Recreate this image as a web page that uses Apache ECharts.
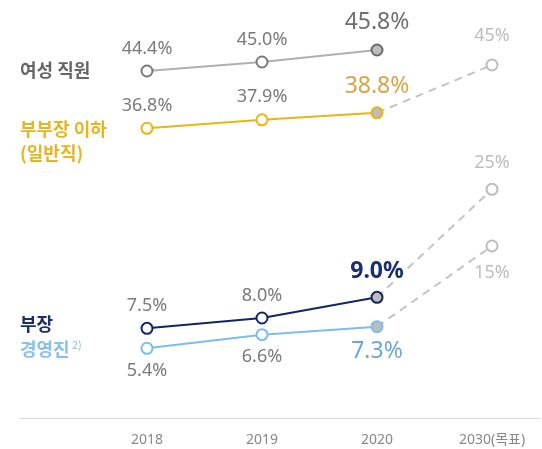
<!DOCTYPE html>
<html><head><meta charset="utf-8">
<script src="https://cdn.jsdelivr.net/npm/echarts@6/dist/echarts.min.js"></script>
<style>html,body{margin:0;padding:0;background:#fff}#c{width:542px;height:449px}</style>
</head><body><div id="c"></div>
<script>
// ---- data ----
const categories = ['2018', '2019', '2020', '2030(목표)'];
const seriesNames = ['여성 직원', '부부장 이하\n(일반직)', '부장', '경영진'];
const womenStaff = [44.4, 45.0, 45.8];
const belowDeputy = [36.8, 37.9, 38.8];
const belowDeputyTarget = 45;
const deptHead = [7.5, 8.0, 9.0];
const deptHeadTarget = 25;
const executives = [5.4, 6.6, 7.3];
const executivesTarget = 15;

const NUM_FONT = "'Noto Sans', 'Noto Sans CJK KR', sans-serif";
const KR_FONT = "'Noto Sans CJK KR', 'Noto Sans', sans-serif";

function solidSeries(name, values, yIdx, cfg) {
  const last = values.length - 1;
  return {
    name: name, type: 'line', xAxisIndex: 0, yAxisIndex: yIdx, z: 5,
    symbol: 'circle', symbolSize: 11,
    lineStyle: { color: cfg.line, width: 2 },
    itemStyle: { color: '#fff', borderColor: cfg.border, borderWidth: 2 },
    data: values.map((v, i) => ({
      value: v,
      itemStyle: i === last ? { color: '#bdbdbd', borderColor: cfg.lastBorder, borderWidth: 2 } : undefined,
      label: i === last ? {
        show: true, position: cfg.pos, distance: cfg.lastDist,
        color: cfg.lastColor, fontSize: 23, fontWeight: cfg.lastWeight || 'normal', fontFamily: NUM_FONT,
        formatter: p => p.value.toFixed(1) + '%'
      } : {
        show: true, position: cfg.pos, distance: cfg.dist,
        color: '#7a7a7a', fontSize: 18, fontFamily: NUM_FONT,
        formatter: p => p.value.toFixed(1) + '%'
      }
    }))
  };
}

function targetSeries(name, from, target, yIdx, pos, dist) {
  return {
    name: name + ' 목표', type: 'line', xAxisIndex: 0, yAxisIndex: yIdx, z: 3,
    symbol: 'circle', symbolSize: 11,
    lineStyle: { color: '#c4c4c4', width: 2, type: [8, 6] },
    itemStyle: { color: '#fff', borderColor: '#bdbdbd', borderWidth: 2 },
    data: [null, null,
      { value: from, symbol: 'none', label: { show: false } },
      { value: target, label: { show: true, position: pos, distance: dist, color: '#bdbdbd', fontSize: 18, fontFamily: NUM_FONT, formatter: p => p.value + '%' } }
    ]
  };
}

const hiddenY = (min, max) => ({ type: 'value', gridIndex: 0, min: min, max: max, show: false, splitLine: { show: false } });

const option = {
  animation: false,
  backgroundColor: '#fff',
  grid: [
    { left: 147, right: 50, top: 0, bottom: 31 },
    { left: 20, right: 2, top: 0, bottom: 31 }
  ],
  xAxis: [
    {
      type: 'category', gridIndex: 0, data: categories, boundaryGap: false,
      axisLine: { show: false }, axisTick: { show: false }, splitLine: { show: false },
      axisLabel: { color: '#888', fontSize: 14, margin: 15, fontFamily: NUM_FONT }
    },
    {
      type: 'category', gridIndex: 1, data: [''],
      axisLine: { show: true, lineStyle: { color: '#d9d9d9', width: 1 } },
      axisTick: { show: false }, axisLabel: { show: false }
    }
  ],
  yAxis: [
    hiddenY(21.267, 49.133),  // 0 women
    hiddenY(-0.728, 53.42),   // 1 below deputy
    hiddenY(3.16, 23.386),    // 2 dept head
    hiddenY(-8.881, 53.044),  // 3 dept head target
    hiddenY(-0.731, 36.04),   // 4 executives
    hiddenY(-1.411, 38.47),   // 5 executives target
    { type: 'value', gridIndex: 1, show: false }
  ],
  series: [
    solidSeries(seriesNames[0], womenStaff, 0, { line: '#b0b0b0', border: '#7a7a7a', lastBorder: '#6a6a6a', pos: 'top', dist: 7, lastDist: 10, lastColor: '#6e6e6e' }),
    solidSeries(seriesNames[1], belowDeputy, 1, { line: '#e8b70f', border: '#e8b70f', lastBorder: '#e8b70f', pos: 'top', dist: 7, lastDist: 8, lastColor: '#d9a441' }),
    targetSeries(seriesNames[1], belowDeputy[2], belowDeputyTarget, 1, 'top', 14),
    solidSeries(seriesNames[2], deptHead, 2, { line: '#0f2568', border: '#0f2568', lastBorder: '#0f2568', pos: 'top', dist: 7, lastDist: 8, lastColor: '#1b2e6e', lastWeight: 'bold' }),
    targetSeries(seriesNames[2], deptHead[2], deptHeadTarget, 3, 'top', 11),
    solidSeries(seriesNames[3], executives, 4, { line: '#7cbdf0', border: '#7cbdf0', lastBorder: '#7cbdf0', pos: 'bottom', dist: 7, lastDist: 7, lastColor: '#6aa6dc' }),
    targetSeries(seriesNames[3], executives[2], executivesTarget, 5, 'bottom', 11)
  ],
  graphic: [
    { type: 'text', x: 20, y: 70, style: { text: seriesNames[0], fill: '#666', font: 'bold 18px ' + KR_FONT, verticalAlign: 'middle' } },
    { type: 'text', x: 20, y: 141, style: { text: seriesNames[1], fill: '#e6b622', font: 'bold 18px ' + KR_FONT, lineHeight: 24, verticalAlign: 'middle' } },
    { type: 'text', x: 20, y: 324, style: { text: seriesNames[2], fill: '#1b2e6e', font: 'bold 18px ' + KR_FONT, verticalAlign: 'middle' } },
    { type: 'text', x: 20, y: 349, style: { text: seriesNames[3], fill: '#85c0ee', font: 'bold 18px ' + KR_FONT, verticalAlign: 'middle' } },
    { type: 'text', x: 72, y: 345, style: { text: '2)', fill: '#85c0ee', font: '11px ' + KR_FONT, verticalAlign: 'middle' } }
  ]
};

const chart = echarts.init(document.getElementById('c'), null, { renderer: 'canvas' });
chart.setOption(option);
</script>
</body></html>
